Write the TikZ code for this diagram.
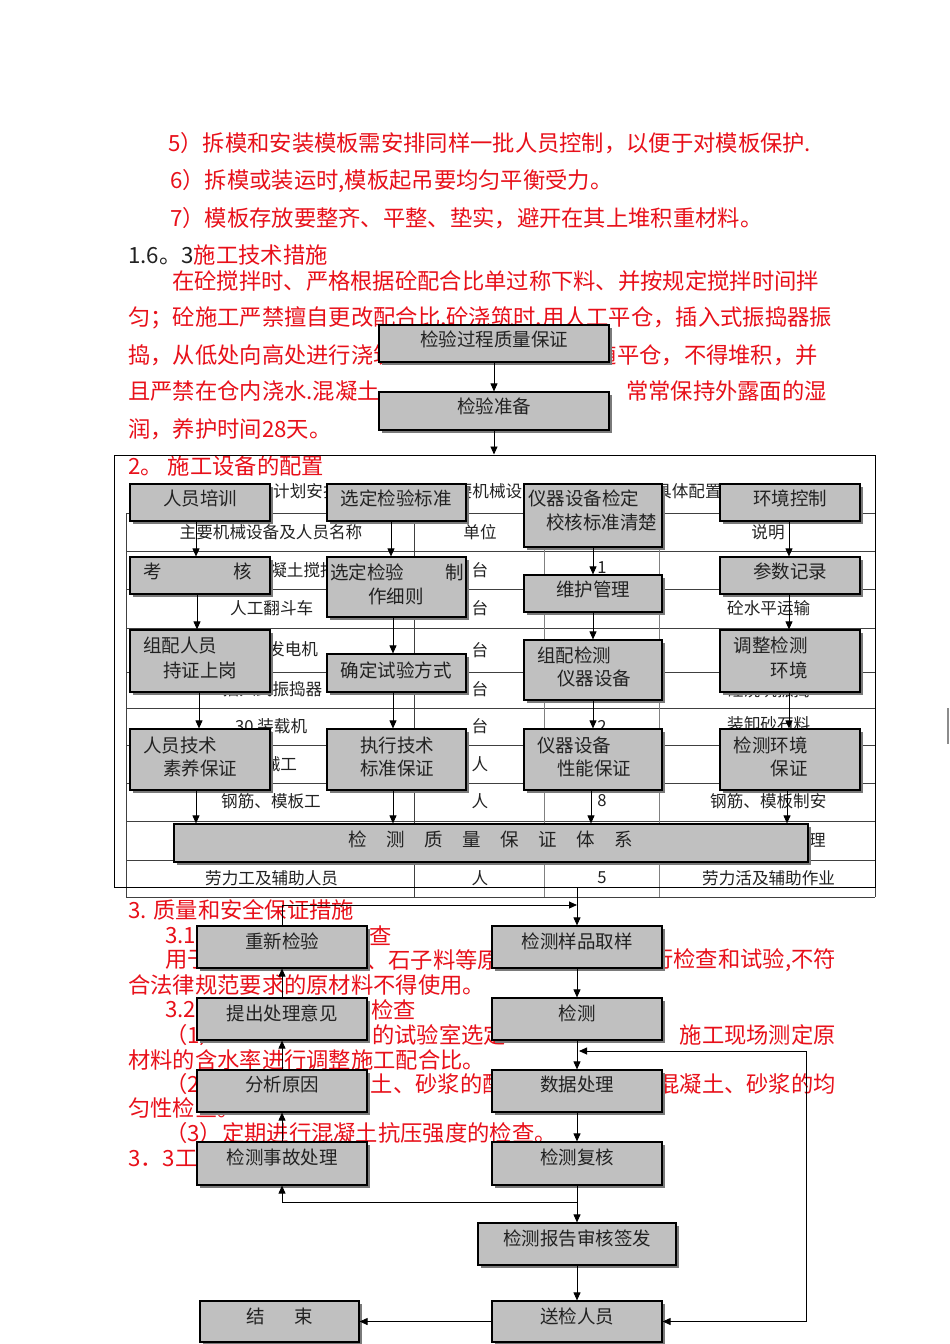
\documentclass[tikz,border=0pt]{standalone}
\usepackage{fontspec}
\setmainfont{Noto Sans CJK SC}
\usetikzlibrary{arrows.meta,fit,shadows}
\definecolor{redtxt}{HTML}{E8101A}
\definecolor{boxfill}{HTML}{C0C0C0}
\definecolor{shadowc}{HTML}{7A7A7A}
\definecolor{txtc}{HTML}{222222}
\newcommand\chsp{\hspace{19.5pt}}
\begin{document}
\begin{tikzpicture}[x=1pt,y=-1pt,
  redtx/.style={text=redtxt, font=\fontsize{22.3}{24}\selectfont, inner sep=0pt, anchor=west},
  redtxr/.style={redtx, anchor=east},
  tabtx/.style={text=txtc, font=\fontsize{16.6}{18}\selectfont, inner sep=0pt},
  boxtx/.style={text=txtc, font=\fontsize{18.5}{20}\selectfont, inner sep=0pt},
  flowbox/.style={draw=black, line width=1.2pt, fill=boxfill, inner sep=0pt,
    drop shadow={shadow xshift=2.5pt, shadow yshift=-2.5pt, fill=shadowc, opacity=1}},
  arr/.style={line width=0.9pt, -{Triangle[length=8pt,width=7pt]}},
  tline/.style={line width=0.8pt, draw=black!75},
  tlineg/.style={line width=0.8pt, draw=black!50},
]
\path[use as bounding box, fill=white] (0,0) rectangle (950,1344);

% ---------- table ----------
\foreach \yy in {513,551,589,628,672,708,745,783,821,860,897}
  \draw[tline] (126,\yy) -- (875,\yy);
\draw[tline] (126,513) -- (126,897);
\draw[tline] (414,513) -- (414,897);
\draw[tlineg] (544,513) -- (544,897);
\draw[tlineg] (659,513) -- (659,897);
\draw[tline] (875,455) -- (875,897);

\node[tabtx, anchor=west] (h0a) at (273,491) {计划安排};
\node[tabtx, anchor=west] (h0b) at (455.6,491) {要机械设};
\node[tabtx, anchor=west] (h0c) at (655,491) {具体配置};
\node[tabtx] (h1) at (271,532) {主要机械设备及人员名称};
\node[tabtx] (h2) at (480,532) {单位};
\node[tabtx] (h3) at (768,532) {说明};
\node[tabtx, anchor=west] (m1) at (253.5,570) {混凝土搅拌};
\node[tabtx] (u1) at (480,570) {台};
\node[tabtx] (q1) at (602,568) {1};
\node[tabtx, anchor=west] (m2) at (230,608) {人工翻斗车};
\node[tabtx] (u2) at (480,608) {台};
\node[tabtx, anchor=west] (n2) at (727,608) {砼水平运输};
\node[tabtx, anchor=west] (m3) at (268,649) {发电机};
\node[tabtx] (u3) at (480,650) {台};
\node[tabtx, anchor=west] (m4) at (222.5,689) {插入式振捣器};
\node[tabtx] (u4) at (480,689) {台};
\node[tabtx, anchor=west] (n4) at (727,690) {砼浇筑振捣};
\node[tabtx, anchor=west] (m5) at (235,726) {30 装载机};
\node[tabtx] (u5) at (480,726) {台};
\node[tabtx] (q5) at (602,726) {2};
\node[tabtx, anchor=west] (n5) at (727,724) {装卸砂石料};
\node[tabtx, anchor=west] (m6) at (247,764) {机械工};
\node[tabtx] (u6) at (480,764) {人};
\node[tabtx, anchor=west] (m7) at (221,801) {钢筋、模板工};
\node[tabtx] (u7) at (480,801) {人};
\node[tabtx] (q7) at (602,801) {8};
\node[tabtx, anchor=west] (n7) at (710,801) {钢筋、模板制安};
\node[tabtx, anchor=east] (n8) at (826,840) {管理};
\node[tabtx, anchor=west] (m9) at (205,878) {劳力工及辅助人员};
\node[tabtx] (u9) at (480,878) {人};
\node[tabtx] (q9) at (602,878) {5};
\node[tabtx, anchor=west] (n9) at (702,878) {劳力活及辅助作业};

% ---------- red text ----------
\node[redtx] (r1) at (168,143) {5）拆模和安装模板需安排同样一批人员控制，以便于对模板保护.};
\node[redtx] (r2) at (170,181) {6）拆模或装运时,模板起吊要均匀平衡受力。};
\node[redtx] (r3) at (170,218) {7）模板存放要整齐、平整、垫实，避开在其上堆积重材料。};
\node[redtx] (r4) at (128,255) {\textcolor{txtc}{1.6。3}施工技术措施};
\node[redtx] (r5) at (172,281) {在砼搅拌时、严格根据砼配合比单过称下料、并按规定搅拌时间拌};
\node[redtx] (r6) at (128,318) {匀；砼施工严禁擅自更改配合比,砼浇筑时,用人工平仓，插入式振捣器振};
\node[redtx] (r7a) at (128,355) {捣，从低处向高处进行浇筑};
\node[redtxr] (r7b) at (818,355) {随平仓，不得堆积，并};
\node[redtx] (r8a) at (128,391) {且严禁在仓内浇水.混凝土};
\node[redtxr] (r8b) at (827,391) {，常常保持外露面的湿};
\node[redtx] (r9) at (128,429) {润，养护时间28天。};
\node[redtx] (r10) at (128,466) {2。 施工设备的配置};

\node[redtx] (s1) at (128,910) {3. 质量和安全保证措施};
\node[redtx] (s2a) at (165,936) {3.1};
\node[redtxr] (s2b) at (392,936) {查};
\node[redtx] (s3a) at (165,960) {用于};
\node[redtx] (s3b) at (366,960) {、石子料等原};
\node[redtxr] (s3c) at (836,960) {行检查和试验,不符};
\node[redtx] (s4) at (128,985) {合法律规范要求的原材料不得使用。};
\node[redtx] (s5a) at (165,1010) {3.2};
\node[redtxr] (s5b) at (416,1010) {检查};
\node[redtx] (s6a) at (165,1035) {（1）};
\node[redtx] (s6b) at (372,1035) {的试验室选定};
\node[redtxr] (s6c) at (836,1035) {施工现场测定原};
\node[redtx] (s7) at (128,1060) {材料的含水率进行调整施工配合比。};
\node[redtx] (s8a) at (165,1084) {（2）};
\node[redtx] (s8b) at (370.6,1084) {土、砂浆的配};
\node[redtxr] (s8c) at (836,1084) {混凝土、砂浆的均};
\node[redtx] (s9) at (128,1108) {匀性检查。};
\node[redtx] (s10) at (165,1133) {（3）定期进行混凝土抗压强度的检查。};
\node[redtx] (s11) at (128,1159) {3．3工};

% ---------- frame ----------
\node[draw=black, line width=1pt, inner sep=0pt, fit={(114,455) (875,887)}] (frame) {};

% ---------- boxes ----------
\node[flowbox, fit={(379,325) (609,362)}] (p1) {};
\node[boxtx] (p1t) at (494,339) {检验过程质量保证};
\node[flowbox, fit={(379,392) (609,430)}] (p2) {};
\node[boxtx] (p2t) at (494,406) {检验准备};

\node[flowbox, fit={(130,484) (270,521)}] (a1) {};
\node[boxtx] (a1t) at (200,498) {人员培训};
\node[flowbox, fit={(130,557) (270,594)}] (a2) {};
\node[boxtx] (a2t) at (153,571) {考};
\node[boxtx] (a2u) at (243,571) {核};
\node[flowbox, fit={(130,630) (270,692)}] (a3) {};
\node[boxtx, anchor=west] (a3t) at (143,645) {组配人员};
\node[boxtx, anchor=west] (a3u) at (163,670) {持证上岗};
\node[flowbox, fit={(130,729) (270,790)}] (a4) {};
\node[boxtx, anchor=west] (a4t) at (143,745) {人员技术};
\node[boxtx, anchor=west] (a4u) at (163,768) {素养保证};

\node[flowbox, fit={(327,484) (466,521)}] (b1) {};
\node[boxtx] (b1t) at (396,498) {选定检验标准};
\node[flowbox, fit={(327,557) (466,617)}] (b2) {};
\node[boxtx, anchor=west] (b2t) at (330,572) {选定检验};
\node[boxtx] (b2u) at (455,572) {制};
\node[boxtx] (b2v) at (396,596) {作细则};
\node[flowbox, fit={(327,654) (466,692)}] (b3) {};
\node[boxtx] (b3t) at (396,670) {确定试验方式};
\node[flowbox, fit={(327,729) (466,790)}] (b4) {};
\node[boxtx] (b4t) at (397,745) {执行技术};
\node[boxtx] (b4u) at (397,768) {标准保证};

\node[flowbox, fit={(524,484) (662,547)}] (c1) {};
\node[boxtx, anchor=west] (c1t) at (528,498) {仪器设备检定};
\node[boxtx, anchor=west] (c1u) at (546,522) {校核标准清楚};
\node[flowbox, fit={(524,575) (662,612)}] (c2) {};
\node[boxtx] (c2t) at (593,589) {维护管理};
\node[flowbox, fit={(524,640) (662,700)}] (c3) {};
\node[boxtx, anchor=west] (c3t) at (537,655) {组配检测};
\node[boxtx, anchor=west] (c3u) at (557,678) {仪器设备};
\node[flowbox, fit={(524,729) (662,790)}] (c4) {};
\node[boxtx, anchor=west] (c4t) at (537,745) {仪器设备};
\node[boxtx, anchor=west] (c4u) at (557,768) {性能保证};

\node[flowbox, fit={(720,484) (860,521)}] (d1) {};
\node[boxtx] (d1t) at (790,498) {环境控制};
\node[flowbox, fit={(720,557) (860,594)}] (d2) {};
\node[boxtx] (d2t) at (790,571) {参数记录};
\node[flowbox, fit={(720,630) (860,692)}] (d3) {};
\node[boxtx, anchor=east] (d3t) at (808,645) {调整检测};
\node[boxtx, anchor=east] (d3u) at (808,670) {环境};
\node[flowbox, fit={(720,729) (860,790)}] (d4) {};
\node[boxtx, anchor=east] (d4t) at (808,745) {检测环境};
\node[boxtx, anchor=east] (d4u) at (808,768) {保证};

\node[flowbox, fit={(174,824) (808,862)}] (qa) {};
\node[boxtx] (qat) at (491,839) {检\chsp 测\chsp 质\chsp 量\chsp 保\chsp 证\chsp 体\chsp 系};

\node[flowbox, fit={(197,926) (367,968)}] (e1) {};
\node[boxtx] (e1t) at (282,941) {重新检验};
\node[flowbox, fit={(197,998) (367,1040)}] (e2) {};
\node[boxtx] (e2t) at (282,1013) {提出处理意见};
\node[flowbox, fit={(197,1070) (367,1112)}] (e3) {};
\node[boxtx] (e3t) at (282,1084) {分析原因};
\node[flowbox, fit={(197,1142) (367,1185)}] (e4) {};
\node[boxtx] (e4t) at (282,1157) {检测事故处理};

\node[flowbox, fit={(492,926) (662,968)}] (f1) {};
\node[boxtx] (f1t) at (577,941) {检测样品取样};
\node[flowbox, fit={(492,998) (662,1040)}] (f2) {};
\node[boxtx] (f2t) at (577,1013) {检测};
\node[flowbox, fit={(492,1070) (662,1112)}] (f3) {};
\node[boxtx] (f3t) at (577,1084) {数据处理};
\node[flowbox, fit={(492,1142) (662,1185)}] (f4) {};
\node[boxtx] (f4t) at (577,1157) {检测复核};

\node[flowbox, fit={(478,1223) (676,1265)}] (g1) {};
\node[boxtx] (g1t) at (577,1238) {检测报告审核签发};
\node[flowbox, fit={(200,1301) (359,1342)}] (h1b) {};
\node[boxtx] (h1t) at (256,1316) {结};
\node[boxtx] (h1u) at (304,1316) {束};
\node[flowbox, fit={(492,1301) (662,1342)}] (h2b) {};
\node[boxtx] (h2t) at (577,1316) {送检人员};

% ---------- connectors ----------
\coordinate (k196) at (196,0);
\coordinate (k197) at (197,0);
\coordinate (k199) at (199,0);
\coordinate (k391) at (391,0);
\coordinate (k393) at (393,0);
\coordinate (k591) at (591,0);
\coordinate (k593) at (593,0);
\coordinate (k787) at (787,0);
\coordinate (k789) at (789,0);

\draw[arr] (p1.south) -- (p2.north);
\draw[arr] (p2.south) -- (p2.south |- frame.north);

\draw[arr] (a1.south -| k196) -- (a2.north -| k196);
\draw[arr] (a2.south -| k197) -- (a3.north -| k197);
\draw[arr] (a3.south -| k199) -- (a4.north -| k199);
\draw[arr] (a4.south -| k196) -- (qa.north -| k196);

\draw[arr] (b1.south -| k391) -- (b2.north -| k391);
\draw[arr] (b2.south -| k393) -- (b3.north -| k393);
\draw[arr] (b3.south -| k393) -- (b4.north -| k393);
\draw[arr] (b4.south -| k393) -- (qa.north -| k393);

\draw[arr] (c1.south -| k593) -- (c2.north -| k593);
\draw[arr] (c2.south -| k593) -- (c3.north -| k593);
\draw[arr] (c3.south -| k593) -- (c4.north -| k593);
\draw[arr] (c4.south -| k591) -- (qa.north -| k591);

\draw[arr] (d1.south -| k789) -- (d2.north -| k789);
\draw[arr] (d2.south -| k789) -- (d3.north -| k789);
\draw[arr] (d3.south -| k789) -- (d4.north -| k789);
\draw[arr] (d4.south -| k787) -- (qa.north -| k787);

\coordinate (j1) at (577,905);
\coordinate (j2) at (577,1202);
\coordinate (j3) at (806,1051);
\coordinate (j4) at (579,1051);

\draw[arr] (frame.south -| f1.north) -- (f1.north);
\draw[arr] (e1.north) |- (j1);
\draw[arr] (f1.south) -- (f2.north);
\draw[arr] (f2.south) -- (f3.north);
\draw[arr] (f3.south) -- (f4.north);
\draw[arr] (f4.south) -- (g1.north);
\draw[arr] (j2) -| (e4.south);
\draw[arr] (e4.north) -- (e3.south);
\draw[arr] (e3.north) -- (e2.south);
\draw[arr] (e2.north) -- (e1.south);
\draw[arr] (g1.south) -- (h2b.north);
\draw[arr] (h2b.west) -- (h1b.east);
\draw[arr] (j3) -- (j4);
\draw[arr] (j3) |- (h2b.east);

\draw[black!45, line width=2pt] (948,708) -- (948,744);
\end{tikzpicture}
\end{document}
